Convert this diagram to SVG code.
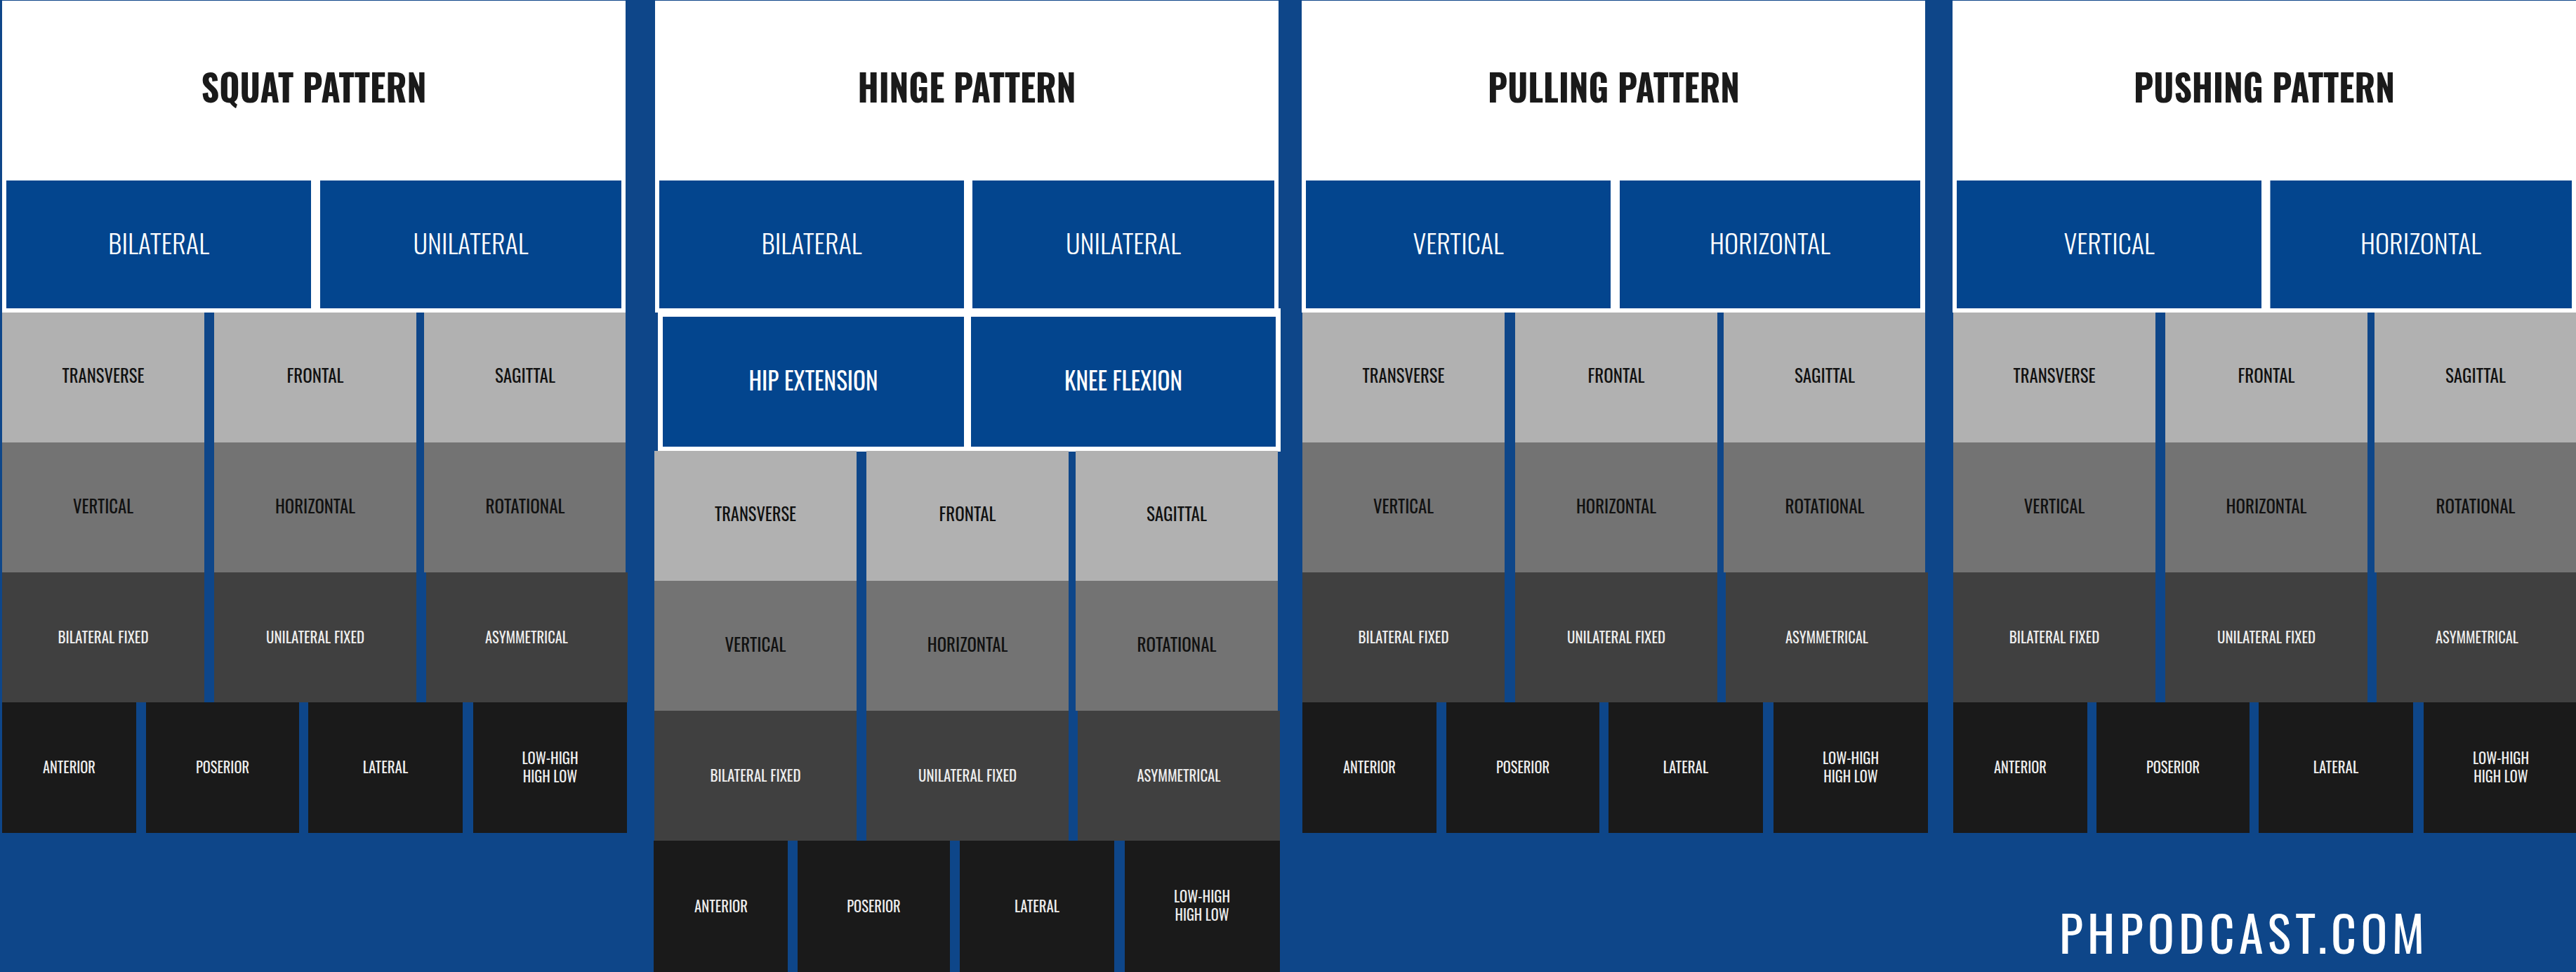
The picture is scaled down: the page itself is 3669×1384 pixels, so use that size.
<svg xmlns="http://www.w3.org/2000/svg" width="3669" height="1384" viewBox="0 0 3669 1384">
<style>
.bg{fill:#0e4689}
.wh{fill:#ffffff}
.bl{fill:#03458e}
.g1{fill:#b1b1b1}
.g2{fill:#737373}
.g3{fill:#404040}
.g4{fill:#1a1a1a}
text{font-family:"Oswald","Liberation Sans Narrow","Liberation Sans",Arial,sans-serif;text-anchor:middle}
.ti{font-size:52px;font-weight:bold;fill:#1a1a1a}
.l2{font-size:38px;font-weight:300;fill:#ffffff}
.hx{font-size:36px;fill:#ffffff}
.rd{font-size:26px;fill:#111111}
.rl{font-size:22px;fill:#eeeeee}
.ft{font-size:70px;font-weight:normal;fill:#ffffff}
</style>
<rect class="bg" x="0" y="0" width="3669" height="1384"/>

<!-- SQUAT -->
<g id="squat" transform="translate(3,0)">
  <g id="squat-title"><rect class="wh" x="0" y="1" width="888" height="444"/><text class="ti" x="444" y="146" textLength="321" lengthAdjust="spacingAndGlyphs">SQUAT PATTERN</text></g>
  <g id="squat-bilateral"><rect class="bl" x="6" y="257" width="434" height="182"/><text class="l2" x="223" y="362" textLength="144" lengthAdjust="spacingAndGlyphs">BILATERAL</text></g>
  <g id="squat-unilateral"><rect class="bl" x="453" y="257" width="429" height="182"/><text class="l2" x="667.5" y="362" textLength="164" lengthAdjust="spacingAndGlyphs">UNILATERAL</text></g>
  <g transform="translate(0,445)">
    <g id="squat-transverse"><rect class="g1" x="0" y="0" width="288" height="185"/><text class="rd" x="144" y="100" textLength="117" lengthAdjust="spacingAndGlyphs">TRANSVERSE</text></g>
    <g id="squat-frontal"><rect class="g1" x="302" y="0" width="288" height="185"/><text class="rd" x="446" y="100" textLength="81" lengthAdjust="spacingAndGlyphs">FRONTAL</text></g>
    <g id="squat-sagittal"><rect class="g1" x="601" y="0" width="287" height="185"/><text class="rd" x="745" y="100" textLength="86" lengthAdjust="spacingAndGlyphs">SAGITTAL</text></g>
    <g id="squat-vertical"><rect class="g2" x="0" y="185" width="288" height="185"/><text class="rd" x="144" y="285.5" textLength="86" lengthAdjust="spacingAndGlyphs">VERTICAL</text></g>
    <g id="squat-horizontal"><rect class="g2" x="302" y="185" width="288" height="185"/><text class="rd" x="446" y="285.5" textLength="114" lengthAdjust="spacingAndGlyphs">HORIZONTAL</text></g>
    <g id="squat-rotational"><rect class="g2" x="601" y="185" width="287" height="185"/><text class="rd" x="745" y="285.5" textLength="113" lengthAdjust="spacingAndGlyphs">ROTATIONAL</text></g>
    <g id="squat-bilateral-fixed"><rect class="g3" x="0" y="370" width="288" height="185"/><text class="rl" x="144" y="470.5" textLength="129" lengthAdjust="spacingAndGlyphs">BILATERAL FIXED</text></g>
    <g id="squat-unilateral-fixed"><rect class="g3" x="302" y="370" width="288" height="185"/><text class="rl" x="446" y="470.5" textLength="140" lengthAdjust="spacingAndGlyphs">UNILATERAL FIXED</text></g>
    <g id="squat-asymmetrical"><rect class="g3" x="604" y="370" width="287" height="185"/><text class="rl" x="747" y="470.5" textLength="118" lengthAdjust="spacingAndGlyphs">ASYMMETRICAL</text></g>
    <g id="squat-anterior"><rect class="g4" x="0" y="555" width="191" height="186"/><text class="rl" x="95.5" y="656" textLength="75" lengthAdjust="spacingAndGlyphs">ANTERIOR</text></g>
    <g id="squat-poserior"><rect class="g4" x="205" y="555" width="218" height="186"/><text class="rl" x="314" y="656" textLength="76" lengthAdjust="spacingAndGlyphs">POSERIOR</text></g>
    <g id="squat-lateral"><rect class="g4" x="436" y="555" width="220" height="186"/><text class="rl" x="546" y="656" textLength="64.5" lengthAdjust="spacingAndGlyphs">LATERAL</text></g>
    <g id="squat-lowhigh"><rect class="g4" x="671" y="555" width="219" height="186"/><text class="rl" x="780.5" y="643" textLength="80" lengthAdjust="spacingAndGlyphs">LOW-HIGH</text><text class="rl" x="780.5" y="668.5" textLength="77.5" lengthAdjust="spacingAndGlyphs">HIGH LOW</text></g>
  </g>
</g>

<!-- HINGE -->
<g id="hinge" transform="translate(932,0)">
  <g id="hinge-title"><rect class="wh" x="1" y="1" width="888" height="444"/><text class="ti" x="445" y="146" textLength="311" lengthAdjust="spacingAndGlyphs">HINGE PATTERN</text></g>
  <g id="hinge-bilateral"><rect class="bl" x="7" y="257" width="434" height="182"/><text class="l2" x="224" y="362" textLength="143" lengthAdjust="spacingAndGlyphs">BILATERAL</text></g>
  <g id="hinge-unilateral"><rect class="bl" x="453" y="257" width="430" height="182"/><text class="l2" x="668" y="362" textLength="164" lengthAdjust="spacingAndGlyphs">UNILATERAL</text></g>
  <rect class="wh" x="5" y="439" width="887" height="204"/>
  <g id="hinge-hip-extension"><rect class="bl" x="12" y="451" width="429" height="185"/><text class="hx" x="226.5" y="555.6" textLength="184" lengthAdjust="spacingAndGlyphs">HIP EXTENSION</text></g>
  <g id="hinge-knee-flexion"><rect class="bl" x="451" y="451" width="434" height="185"/><text class="hx" x="668" y="555.6" textLength="168" lengthAdjust="spacingAndGlyphs">KNEE FLEXION</text></g>
  <g transform="translate(0,642)">
    <g id="hinge-transverse"><rect class="g1" x="0" y="0" width="288" height="185"/><text class="rd" x="144" y="100" textLength="116" lengthAdjust="spacingAndGlyphs">TRANSVERSE</text></g>
    <g id="hinge-frontal"><rect class="g1" x="302" y="0" width="288" height="185"/><text class="rd" x="446" y="100" textLength="81" lengthAdjust="spacingAndGlyphs">FRONTAL</text></g>
    <g id="hinge-sagittal"><rect class="g1" x="600" y="0" width="288" height="185"/><text class="rd" x="744" y="100" textLength="86" lengthAdjust="spacingAndGlyphs">SAGITTAL</text></g>
    <g id="hinge-vertical"><rect class="g2" x="0" y="185" width="288" height="185"/><text class="rd" x="144" y="285.5" textLength="87" lengthAdjust="spacingAndGlyphs">VERTICAL</text></g>
    <g id="hinge-horizontal"><rect class="g2" x="302" y="185" width="288" height="185"/><text class="rd" x="446" y="285.5" textLength="114.5" lengthAdjust="spacingAndGlyphs">HORIZONTAL</text></g>
    <g id="hinge-rotational"><rect class="g2" x="600" y="185" width="288" height="185"/><text class="rd" x="744" y="285.5" textLength="113" lengthAdjust="spacingAndGlyphs">ROTATIONAL</text></g>
    <g id="hinge-bilateral-fixed"><rect class="g3" x="0" y="370" width="288" height="185"/><text class="rl" x="144" y="471" textLength="129" lengthAdjust="spacingAndGlyphs">BILATERAL FIXED</text></g>
    <g id="hinge-unilateral-fixed"><rect class="g3" x="302" y="370" width="288" height="185"/><text class="rl" x="446" y="471" textLength="140" lengthAdjust="spacingAndGlyphs">UNILATERAL FIXED</text></g>
    <g id="hinge-asymmetrical"><rect class="g3" x="603" y="370" width="288" height="185"/><text class="rl" x="747" y="471" textLength="119" lengthAdjust="spacingAndGlyphs">ASYMMETRICAL</text></g>
    <g id="hinge-anterior"><rect class="g4" x="-1" y="555" width="191" height="187"/><text class="rl" x="95" y="656.5" textLength="76" lengthAdjust="spacingAndGlyphs">ANTERIOR</text></g>
    <g id="hinge-poserior"><rect class="g4" x="204" y="555" width="217" height="187"/><text class="rl" x="312.5" y="656.5" textLength="76.5" lengthAdjust="spacingAndGlyphs">POSERIOR</text></g>
    <g id="hinge-lateral"><rect class="g4" x="435" y="555" width="220" height="187"/><text class="rl" x="545" y="656.5" textLength="64" lengthAdjust="spacingAndGlyphs">LATERAL</text></g>
    <g id="hinge-lowhigh"><rect class="g4" x="670" y="555" width="221" height="187"/><text class="rl" x="780" y="643" textLength="80" lengthAdjust="spacingAndGlyphs">LOW-HIGH</text><text class="rl" x="780" y="668.5" textLength="77" lengthAdjust="spacingAndGlyphs">HIGH LOW</text></g>
  </g>
</g>

<!-- PULLING -->
<g id="pulling" transform="translate(1854,0)">
  <g id="pulling-title"><rect class="wh" x="0" y="1" width="888" height="444"/><text class="ti" x="444.5" y="146" textLength="359" lengthAdjust="spacingAndGlyphs">PULLING PATTERN</text></g>
  <g id="pulling-vertical-main"><rect class="bl" x="6" y="257" width="434" height="182"/><text class="l2" x="223" y="362" textLength="129" lengthAdjust="spacingAndGlyphs">VERTICAL</text></g>
  <g id="pulling-horizontal-main"><rect class="bl" x="453" y="257" width="428" height="182"/><text class="l2" x="667" y="362" textLength="172" lengthAdjust="spacingAndGlyphs">HORIZONTAL</text></g>
  <g transform="translate(0,445)">
    <g id="pulling-transverse"><rect class="g1" x="1" y="0" width="288" height="185"/><text class="rd" x="145" y="100" textLength="117" lengthAdjust="spacingAndGlyphs">TRANSVERSE</text></g>
    <g id="pulling-frontal"><rect class="g1" x="304" y="0" width="288" height="185"/><text class="rd" x="448" y="100" textLength="81" lengthAdjust="spacingAndGlyphs">FRONTAL</text></g>
    <g id="pulling-sagittal"><rect class="g1" x="601" y="0" width="287" height="185"/><text class="rd" x="745" y="100" textLength="86" lengthAdjust="spacingAndGlyphs">SAGITTAL</text></g>
    <g id="pulling-vertical"><rect class="g2" x="1" y="185" width="288" height="185"/><text class="rd" x="145" y="285.5" textLength="86" lengthAdjust="spacingAndGlyphs">VERTICAL</text></g>
    <g id="pulling-horizontal"><rect class="g2" x="304" y="185" width="288" height="185"/><text class="rd" x="448" y="285.5" textLength="114" lengthAdjust="spacingAndGlyphs">HORIZONTAL</text></g>
    <g id="pulling-rotational"><rect class="g2" x="601" y="185" width="287" height="185"/><text class="rd" x="745" y="285.5" textLength="113" lengthAdjust="spacingAndGlyphs">ROTATIONAL</text></g>
    <g id="pulling-bilateral-fixed"><rect class="g3" x="1" y="370" width="288" height="185"/><text class="rl" x="145" y="470.5" textLength="129" lengthAdjust="spacingAndGlyphs">BILATERAL FIXED</text></g>
    <g id="pulling-unilateral-fixed"><rect class="g3" x="304" y="370" width="288" height="185"/><text class="rl" x="448" y="470.5" textLength="140" lengthAdjust="spacingAndGlyphs">UNILATERAL FIXED</text></g>
    <g id="pulling-asymmetrical"><rect class="g3" x="604" y="370" width="288" height="185"/><text class="rl" x="748" y="470.5" textLength="118" lengthAdjust="spacingAndGlyphs">ASYMMETRICAL</text></g>
    <g id="pulling-anterior"><rect class="g4" x="1" y="555" width="191" height="186"/><text class="rl" x="96.5" y="656" textLength="75" lengthAdjust="spacingAndGlyphs">ANTERIOR</text></g>
    <g id="pulling-poserior"><rect class="g4" x="206" y="555" width="218" height="186"/><text class="rl" x="315" y="656" textLength="76" lengthAdjust="spacingAndGlyphs">POSERIOR</text></g>
    <g id="pulling-lateral"><rect class="g4" x="437" y="555" width="220" height="186"/><text class="rl" x="547" y="656" textLength="64.5" lengthAdjust="spacingAndGlyphs">LATERAL</text></g>
    <g id="pulling-lowhigh"><rect class="g4" x="672" y="555" width="220" height="186"/><text class="rl" x="782" y="643" textLength="80" lengthAdjust="spacingAndGlyphs">LOW-HIGH</text><text class="rl" x="782" y="668.5" textLength="77.5" lengthAdjust="spacingAndGlyphs">HIGH LOW</text></g>
  </g>
</g>

<!-- PUSHING -->
<g id="pushing" transform="translate(2781,0)">
  <g id="pushing-title"><rect class="wh" x="0" y="1" width="888" height="444"/><text class="ti" x="444" y="146" textLength="372" lengthAdjust="spacingAndGlyphs">PUSHING PATTERN</text></g>
  <g id="pushing-vertical-main"><rect class="bl" x="6" y="257" width="434" height="182"/><text class="l2" x="223" y="362" textLength="129" lengthAdjust="spacingAndGlyphs">VERTICAL</text></g>
  <g id="pushing-horizontal-main"><rect class="bl" x="452.5" y="257" width="429.5" height="182"/><text class="l2" x="667" y="362" textLength="172" lengthAdjust="spacingAndGlyphs">HORIZONTAL</text></g>
  <g transform="translate(0,445)">
    <g id="pushing-transverse"><rect class="g1" x="1" y="0" width="288" height="185"/><text class="rd" x="145" y="100" textLength="117" lengthAdjust="spacingAndGlyphs">TRANSVERSE</text></g>
    <g id="pushing-frontal"><rect class="g1" x="303" y="0" width="288" height="185"/><text class="rd" x="447" y="100" textLength="81" lengthAdjust="spacingAndGlyphs">FRONTAL</text></g>
    <g id="pushing-sagittal"><rect class="g1" x="601" y="0" width="287" height="185"/><text class="rd" x="745" y="100" textLength="86" lengthAdjust="spacingAndGlyphs">SAGITTAL</text></g>
    <g id="pushing-vertical"><rect class="g2" x="1" y="185" width="288" height="185"/><text class="rd" x="145" y="285.5" textLength="86.5" lengthAdjust="spacingAndGlyphs">VERTICAL</text></g>
    <g id="pushing-horizontal"><rect class="g2" x="303" y="185" width="288" height="185"/><text class="rd" x="447" y="285.5" textLength="115" lengthAdjust="spacingAndGlyphs">HORIZONTAL</text></g>
    <g id="pushing-rotational"><rect class="g2" x="601" y="185" width="287" height="185"/><text class="rd" x="745" y="285.5" textLength="113" lengthAdjust="spacingAndGlyphs">ROTATIONAL</text></g>
    <g id="pushing-bilateral-fixed"><rect class="g3" x="1" y="370" width="288" height="185"/><text class="rl" x="145" y="470.5" textLength="128.5" lengthAdjust="spacingAndGlyphs">BILATERAL FIXED</text></g>
    <g id="pushing-unilateral-fixed"><rect class="g3" x="303" y="370" width="288" height="185"/><text class="rl" x="447" y="470.5" textLength="140" lengthAdjust="spacingAndGlyphs">UNILATERAL FIXED</text></g>
    <g id="pushing-asymmetrical"><rect class="g3" x="604" y="370" width="284" height="185"/><text class="rl" x="747" y="470.5" textLength="118" lengthAdjust="spacingAndGlyphs">ASYMMETRICAL</text></g>
    <g id="pushing-anterior"><rect class="g4" x="1" y="555" width="191" height="186"/><text class="rl" x="96.5" y="656" textLength="75" lengthAdjust="spacingAndGlyphs">ANTERIOR</text></g>
    <g id="pushing-poserior"><rect class="g4" x="205" y="555" width="218" height="186"/><text class="rl" x="314" y="656" textLength="76" lengthAdjust="spacingAndGlyphs">POSERIOR</text></g>
    <g id="pushing-lateral"><rect class="g4" x="436" y="555" width="220" height="186"/><text class="rl" x="546" y="656" textLength="64.5" lengthAdjust="spacingAndGlyphs">LATERAL</text></g>
    <g id="pushing-lowhigh"><rect class="g4" x="671" y="555" width="217" height="186"/><text class="rl" x="781" y="643" textLength="80" lengthAdjust="spacingAndGlyphs">LOW-HIGH</text><text class="rl" x="781" y="668.5" textLength="77.5" lengthAdjust="spacingAndGlyphs">HIGH LOW</text></g>
  </g>
</g>

<g id="footer"><text class="ft" x="3193" y="1357.5" textLength="520" lengthAdjust="spacing">PHPODCAST.COM</text></g>
</svg>
